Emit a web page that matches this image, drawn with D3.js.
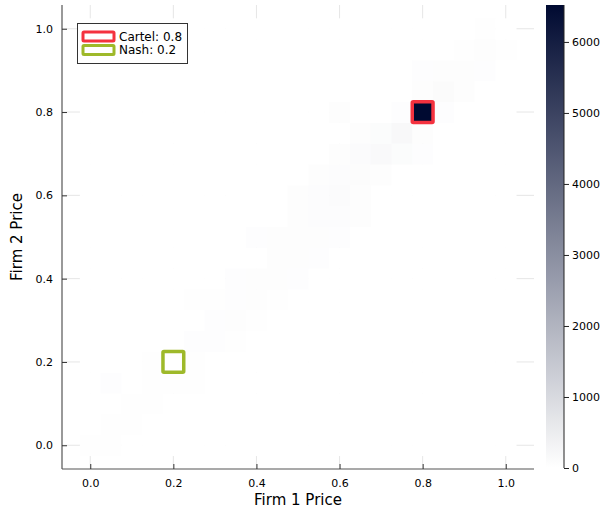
<!DOCTYPE html>
<html>
<head>
<meta charset="utf-8">
<script src="https://cdn.jsdelivr.net/npm/d3@7"></script>
<style>
  html, body { margin: 0; padding: 0; background: #ffffff; }
  svg { display: block; font-family: "DejaVu Sans", sans-serif; }
</style>
</head>
<body>
<svg id="chart" width="614" height="509"></svg>
<script>
// Price grid shared by both firms (0.00, 0.05, ..., 1.00)
const prices = d3.range(21).map(i => +(i * 0.05).toFixed(2));

// Visit counts: countRows[j][i] = count where Firm 2 price = prices[j], Firm 1 price = prices[i]
const countRows = [
  [28, 28, 0, 0, 0, 0, 0, 0, 0, 0, 0, 0, 0, 0, 0, 0, 0, 0, 0, 0, 0],
  [0, 35, 35, 0, 0, 0, 0, 0, 0, 0, 0, 0, 0, 0, 0, 0, 0, 0, 0, 0, 0],
  [0, 0, 35, 35, 0, 0, 0, 0, 0, 0, 0, 0, 0, 0, 0, 0, 0, 0, 0, 0, 0],
  [0, 42, 0, 35, 35, 28, 0, 0, 0, 0, 0, 0, 0, 0, 0, 0, 0, 0, 0, 0, 0],
  [0, 0, 0, 28, 0, 20, 0, 0, 0, 0, 0, 0, 0, 0, 0, 0, 0, 0, 0, 0, 0],
  [0, 0, 0, 0, 0, 42, 42, 35, 0, 0, 0, 0, 0, 0, 0, 0, 0, 0, 0, 0, 0],
  [0, 0, 0, 0, 0, 0, 42, 50, 35, 0, 0, 0, 0, 0, 0, 0, 0, 0, 0, 0, 0],
  [0, 0, 0, 0, 0, 28, 35, 42, 50, 35, 0, 0, 0, 0, 0, 0, 0, 0, 0, 0, 0],
  [0, 0, 0, 0, 0, 0, 0, 42, 50, 56, 42, 0, 0, 0, 0, 0, 0, 0, 0, 0, 0],
  [0, 0, 0, 0, 0, 0, 0, 0, 0, 56, 63, 42, 0, 0, 0, 0, 0, 0, 0, 0, 0],
  [0, 0, 0, 0, 0, 0, 0, 0, 42, 50, 56, 63, 42, 0, 0, 0, 0, 0, 0, 0, 0],
  [0, 0, 0, 0, 0, 0, 0, 0, 0, 0, 56, 70, 77, 50, 0, 0, 0, 0, 0, 0, 0],
  [0, 0, 0, 0, 0, 0, 0, 0, 0, 0, 50, 77, 105, 63, 0, 0, 0, 0, 0, 0, 0],
  [0, 0, 0, 0, 0, 0, 0, 0, 0, 0, 0, 56, 77, 84, 63, 0, 0, 0, 0, 0, 0],
  [0, 0, 0, 0, 0, 0, 0, 0, 0, 0, 0, 0, 50, 98, 155, 90, 42, 0, 0, 0, 0],
  [0, 0, 0, 0, 0, 0, 0, 0, 0, 0, 0, 0, 0, 63, 90, 185, 56, 0, 0, 0, 0],
  [0, 0, 0, 0, 0, 0, 0, 0, 0, 0, 0, 0, 50, 0, 0, 42, 6520, 42, 0, 0, 0],
  [0, 0, 0, 0, 0, 0, 0, 0, 0, 0, 0, 0, 0, 0, 0, 0, 56, 112, 63, 0, 0],
  [0, 0, 0, 0, 0, 0, 0, 0, 0, 0, 0, 0, 0, 0, 0, 0, 42, 56, 50, 42, 0],
  [0, 0, 0, 0, 0, 0, 0, 0, 0, 0, 0, 0, 0, 0, 0, 0, 0, 0, 35, 50, 35],
  [0, 0, 0, 0, 0, 0, 0, 0, 0, 0, 0, 0, 0, 0, 0, 0, 0, 0, 0, 35, 0]
];

// Reference outcomes highlighted on the map
const outcomeNames = ["Cartel", "Nash"];
const outcomePrices = [0.8, 0.2];
const outcomeColors = ["#f4323f", "#9eb92a"];

const axisTicks = [0, 0.2, 0.4, 0.6, 0.8, 1.0];
const colorTicks = [0, 1000, 2000, 3000, 4000, 5000, 6000];

const svg = d3.select("#chart");
const plot = { left: 62, right: 534, top: 5, bottom: 469 };

const x = d3.scaleLinear().domain([-0.068, 1.068]).range([plot.left, plot.right]);
const y = d3.scaleLinear().domain([-0.057, 1.057]).range([plot.bottom, plot.top]);

const maxCount = d3.max(countRows, r => d3.max(r));
const colorInterp = d3.interpolateRgb("#ffffff", "#000a31");
const color = d3.scaleSequential(colorInterp).domain([0, maxCount]);

// Grid lines
const grid = svg.append("g").attr("stroke", "#000").attr("stroke-opacity", 0.1).attr("stroke-width", 1);
axisTicks.forEach(t => {
  grid.append("line").attr("x1", x(t)).attr("x2", x(t)).attr("y1", plot.top).attr("y2", plot.bottom);
  grid.append("line").attr("x1", plot.left).attr("x2", plot.right).attr("y1", y(t)).attr("y2", y(t));
});

// Heatmap cells
const half = 0.025;
const cells = [];
countRows.forEach((row, j) => row.forEach((v, i) => cells.push({ px: prices[i], py: prices[j], v })));
svg.append("g").selectAll("rect").data(cells).join("rect")
  .attr("x", d => x(d.px - half))
  .attr("y", d => y(d.py + half))
  .attr("width", d => x(d.px + half) - x(d.px - half) + 0.4)
  .attr("height", d => y(d.py - half) - y(d.py + half) + 0.4)
  .attr("fill", d => color(d.v));

// Outcome markers
const markers = svg.append("g");
outcomePrices.forEach((p, k) => {
  markers.append("rect")
    .attr("x", x(p - half)).attr("y", y(p + half))
    .attr("width", x(p + half) - x(p - half))
    .attr("height", y(p - half) - y(p + half))
    .attr("fill", "none")
    .attr("stroke", outcomeColors[k])
    .attr("stroke-width", 3.5)
    .attr("rx", 1);
});

// Axes
const fmt = d3.format(".1f");
const xAxis = svg.append("g").attr("transform", `translate(0,${plot.bottom})`)
  .call(d3.axisBottom(x).tickValues(axisTicks).tickFormat(fmt).tickSizeInner(-5).tickSizeOuter(0).tickPadding(10));
const yAxis = svg.append("g").attr("transform", `translate(${plot.left},0)`)
  .call(d3.axisLeft(y).tickValues(axisTicks).tickFormat(fmt).tickSizeInner(-5).tickSizeOuter(0).tickPadding(9));
[xAxis, yAxis].forEach(a => {
  a.select(".domain").attr("stroke", "#555").attr("stroke-width", 1.2);
  a.selectAll(".tick line").attr("stroke", "#333");
  a.selectAll(".tick text").attr("font-size", 11).attr("fill", "#000").attr("font-family", "DejaVu Sans, sans-serif");
});
xAxis.select(".domain").attr("d", `M${plot.left},0H${plot.right}`);
yAxis.select(".domain").attr("d", `M0,${plot.top}V${plot.bottom}`);

// Axis titles
svg.append("text").attr("x", (plot.left + plot.right) / 2).attr("y", 505)
  .attr("text-anchor", "middle").attr("font-size", 15).text("Firm 1 Price");
svg.append("text").attr("transform", `translate(22,${(plot.top + plot.bottom) / 2}) rotate(-90)`)
  .attr("text-anchor", "middle").attr("font-size", 15).text("Firm 2 Price");

// Legend
const legend = svg.append("g");
legend.append("rect").attr("x", 77.5).attr("y", 23.5).attr("width", 110).attr("height", 40)
  .attr("fill", "#fff").attr("stroke", "#333").attr("stroke-width", 1);
outcomeNames.forEach((name, k) => {
  const cy = 36.5 + k * 13.5;
  legend.append("rect").attr("x", 83).attr("y", cy - 4.5).attr("width", 31).attr("height", 9)
    .attr("fill", "none").attr("stroke", outcomeColors[k]).attr("stroke-width", 3).attr("rx", 1);
  legend.append("text").attr("x", 119).attr("y", cy + 4.2).attr("font-size", 12)
    .text(`${name}: ${fmt(outcomePrices[k])}`);
});

// Colorbar
const cb = { left: 546, right: 564, top: 5, bottom: 468 };
const defs = svg.append("defs");
const grad = defs.append("linearGradient").attr("id", "cbgrad")
  .attr("x1", 0).attr("y1", 1).attr("x2", 0).attr("y2", 0);
d3.range(0, 1.0001, 0.1).forEach(t => {
  grad.append("stop").attr("offset", t).attr("stop-color", colorInterp(t));
});
svg.append("rect").attr("x", cb.left).attr("y", cb.top).attr("width", cb.right - cb.left)
  .attr("height", cb.bottom - cb.top).attr("fill", "url(#cbgrad)");
const cScale = d3.scaleLinear().domain([0, maxCount]).range([cb.bottom, cb.top]);
const cAxis = svg.append("g").attr("transform", `translate(${cb.right},0)`)
  .call(d3.axisRight(cScale).tickValues(colorTicks).tickFormat(d3.format("d")).tickSizeInner(5).tickSizeOuter(0).tickPadding(3));
cAxis.select(".domain").attr("stroke", "#222").attr("d", `M0,${cb.top}V${cb.bottom}`);
cAxis.selectAll(".tick line").attr("stroke", "#222");
cAxis.selectAll(".tick text").attr("font-size", 11).attr("fill", "#000").attr("font-family", "DejaVu Sans, sans-serif");
</script>
</body>
</html>
